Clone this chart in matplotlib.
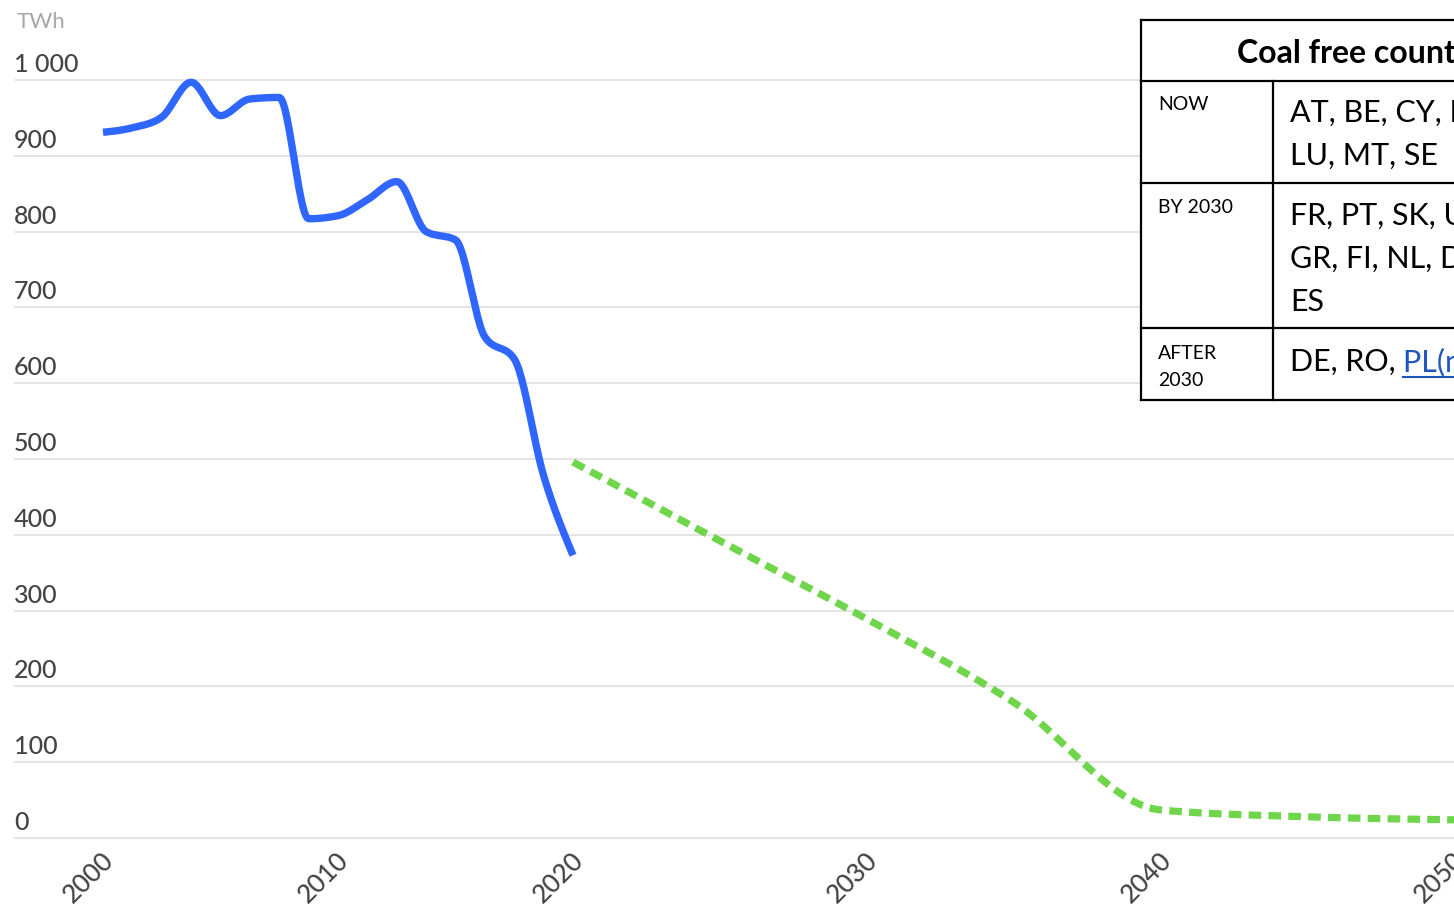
import numpy as np
import matplotlib
matplotlib.use("Agg")
import matplotlib.pyplot as plt
from matplotlib.transforms import ScaledTranslation
from matplotlib.patches import Rectangle

# ---------------- data ----------------
hist_pos = list(range(17))          # category positions of the historic series
hist_twh = [931, 937, 951, 997, 953, 975, 977, 817, 821, 842, 866, 800, 789, 661, 632, 478, 373]
proj_pos = [16, 21, 26, 31, 36, 41, 46]
proj_twh = [496, 392, 289, 179, 37, 28, 24]
xtick_pos = [0, 8, 16, 26, 36, 46]
xtick_labels = ["2000", "2010", "2020", "2030", "2040", "2050"]
ytick_vals = [0, 100, 200, 300, 400, 500, 600, 700, 800, 900, 1000]
ytick_labels = ["0", "100", "200", "300", "400", "500", "600", "700", "800", "900", "1 000"]
unit_label = "TWh"

table_title = "Coal free countries"
table_periods = [["NOW"], ["BY 2030"], ["AFTER", "2030"]]
table_now = ["AT, BE, CY, EE, LV, LT,", "LU, MT, SE"]
table_by2030 = ["FR, PT, SK, UK, IE, IT,", "GR, FI, NL, DK, HU, HR,", "ES"]
table_after_plain = "DE, RO, "
table_after_link = "PL(no date)"

BLUE = "#2f66ff"
GREEN = "#6fd64c"
GRID = "#e2e2e2"
TXT = "#444444"


def monotone(x, y, n=24):
    x = np.asarray(x, float)
    y = np.asarray(y, float)
    h = np.diff(x)
    s = np.diff(y) / h
    m = np.zeros_like(y)
    for k in range(1, len(x) - 1):
        p = (s[k - 1] * h[k] + s[k] * h[k - 1]) / (h[k - 1] + h[k])
        m[k] = (np.sign(s[k - 1]) + np.sign(s[k])) * min(abs(s[k - 1]), abs(s[k]), 0.5 * abs(p))
    m[0] = (3 * s[0] - m[1]) / 2 if len(x) > 2 else s[0]
    m[-1] = (3 * s[-1] - m[-2]) / 2 if len(x) > 2 else s[-1]
    xs, ys = [], []
    for k in range(len(x) - 1):
        t = np.linspace(0, 1, n, endpoint=(k == len(x) - 2))
        h00 = 2 * t**3 - 3 * t**2 + 1
        h10 = t**3 - 2 * t**2 + t
        h01 = -2 * t**3 + 3 * t**2
        h11 = t**3 - t**2
        xs.append(x[k] + t * h[k])
        ys.append(h00 * y[k] + h10 * h[k] * m[k] + h01 * y[k + 1] + h11 * h[k] * m[k + 1])
    return np.concatenate(xs), np.concatenate(ys)


W, H = 1454, 909
fig = plt.figure(figsize=(W / 100, H / 100), dpi=100)
fig.patch.set_facecolor("white")

# axes geometry (pixels)
left_px, right_px = 14, 1500
zero_px, bottom_px, top_px = 838, 845, 40
x0_px, px_per_step = 103, 29.375
px_per_twh = (838 - 80) / 1000.0

ax = fig.add_axes([left_px / W, (H - bottom_px) / H, (right_px - left_px) / W, (bottom_px - top_px) / H])
ax.set_xlim((left_px - x0_px) / px_per_step, (right_px - x0_px) / px_per_step)
ax.set_ylim(-(bottom_px - zero_px) / px_per_twh, (zero_px - top_px) / px_per_twh)
for sp in ax.spines.values():
    sp.set_visible(False)
ax.set_facecolor("none")

ax.set_yticks(ytick_vals, ytick_labels)
ax.grid(axis="y", color=GRID, lw=1.3)
ax.set_axisbelow(True)
ax.tick_params(axis="y", length=0, pad=0, labelsize=18, labelcolor=TXT)
for lab in ax.get_yticklabels():
    lab.set_ha("left")
    lab.set_va("baseline")
    lab.set_family("Lato")
    lab.set_fontweight("medium")
    lab.set_transform(lab.get_transform() + ScaledTranslation(0, 0.08, fig.dpi_scale_trans))

ax.set_xticks(xtick_pos, xtick_labels)
ax.tick_params(axis="x", length=0, pad=8, labelsize=18.5, labelcolor=TXT)
for lab in ax.get_xticklabels():
    lab.set_rotation(45)
    lab.set_ha("right")
    lab.set_va("center")
    lab.set_rotation_mode("anchor")
    lab.set_family("Lato")
    lab.set_fontweight("medium")
    lab.set_transform(lab.get_transform() + ScaledTranslation(0.07, 0.0, fig.dpi_scale_trans))

bx, by = monotone(hist_pos, hist_twh)
ax.plot(bx, by, color=BLUE, lw=5.3, solid_capstyle="butt", solid_joinstyle="round", zorder=3)
gx, gy = monotone(proj_pos, proj_twh)
ax.plot(gx, gy, color=GREEN, lw=5.2, dashes=(1.75, 1.0), dash_capstyle="butt", zorder=3)

fig.text(17 / W, 1 - 28 / H, unit_label, ha="left", va="baseline", fontsize=16,
         color="#a8a8a8", family="Lato")

# ---------------- table overlay ----------------
tax = fig.add_axes([0, 0, 1, 1], zorder=10)
tax.set_xlim(0, W)
tax.set_ylim(H, 0)
tax.axis("off")
tax.add_patch(Rectangle((1141, 20), 400, 380, facecolor="white", edgecolor="none"))
lw_t = 1.6
tax.plot([1141, 1460], [20, 20], color="black", lw=lw_t)
tax.plot([1141, 1460], [400, 400], color="black", lw=lw_t)
tax.plot([1141, 1141], [20, 400], color="black", lw=lw_t)
for yy in (81, 183, 328):
    tax.plot([1141, 1460], [yy, yy], color="black", lw=lw_t)
tax.plot([1273, 1273], [81, 400], color="black", lw=lw_t)

big = 22
small = 14
tax.text(1237, 63, table_title, fontsize=23, fontweight="bold", family="Lato",
         ha="left", va="baseline", color="black")
period_y = [110, 213, 359]
for lines, yy in zip(table_periods, period_y):
    for j, line in enumerate(lines):
        tax.text(1158, yy + 27 * j, line, fontsize=small, family="Lato", ha="left", va="baseline",
                 color="black")
for i, line in enumerate(table_now):
    tax.text(1290, 122 + 43 * i, line, fontsize=big, family="Lato", ha="left", va="baseline", color="black")
for i, line in enumerate(table_by2030):
    tax.text(1290, 225 + 43 * i, line, fontsize=big, family="Lato", ha="left", va="baseline", color="black")
t1 = tax.text(1290, 371, table_after_plain, fontsize=big, family="Lato", ha="left", va="baseline", color="black")
fig.canvas.draw()
bb = t1.get_window_extent()
inv = tax.transData.inverted()
x_end = inv.transform((bb.x1, bb.y0))[0]
t2 = tax.text(x_end, 371, table_after_link, fontsize=big, family="Lato", ha="left", va="baseline", color="#1f56c0")
fig.canvas.draw()
bb2 = t2.get_window_extent()
xa = inv.transform((bb2.x0, 0))[0]
xb = inv.transform((bb2.x1, 0))[0]
tax.plot([xa, xb], [377, 377], color="#1f56c0", lw=1.5)

fig.savefig("out.png", dpi=100, facecolor="white")
